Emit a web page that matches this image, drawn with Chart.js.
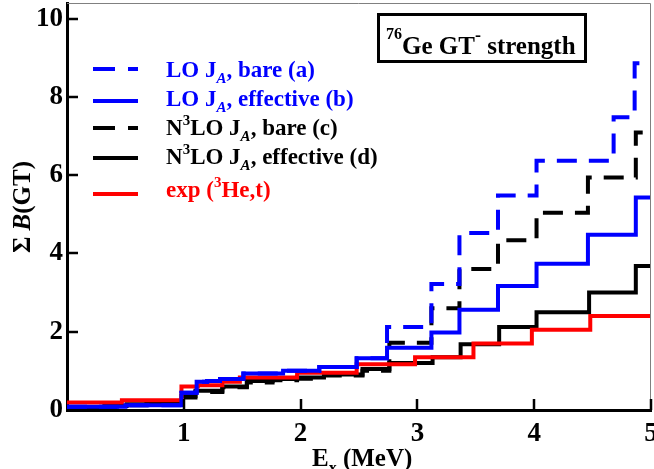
<!DOCTYPE html>
<html>
<head>
<meta charset="utf-8">
<script src="https://cdn.jsdelivr.net/npm/chart.js@4"></script>
<style>
  body { margin: 0; background: #fff; }
  #wrap { position: relative; width: 654px; height: 469px; overflow: hidden; }
  #chart { position: absolute; left: 0; top: 0; }
  #overlay { position: absolute; left: 0; top: 0; font-family: "Liberation Serif", "Times New Roman", serif; font-weight: bold; }
</style>
</head>
<body>
<div id="wrap">
  <canvas id="chart" width="654" height="469"></canvas>
  <svg id="overlay" width="654" height="469" xmlns="http://www.w3.org/2000/svg">
    <!-- annotation box -->
    <rect x="378.5" y="14.5" width="207" height="47" fill="#fff" stroke="#000" stroke-width="3"/>
    <text x="386" y="54" font-size="25"><tspan font-size="16" dy="-15">76</tspan><tspan dy="15">Ge GT</tspan><tspan font-size="18" dy="-13">-</tspan><tspan dy="13"> strength</tspan></text>

    <!-- legend -->
    <line x1="93" y1="69" x2="138" y2="69" stroke="#0000ff" stroke-width="4" stroke-dasharray="22 13"/>
    <line x1="93" y1="101" x2="138" y2="101" stroke="#0000ff" stroke-width="4"/>
    <line x1="93" y1="128" x2="138" y2="128" stroke="#000" stroke-width="4" stroke-dasharray="22 13"/>
    <line x1="93" y1="158" x2="138" y2="158" stroke="#000" stroke-width="4"/>
    <line x1="93" y1="194" x2="138" y2="194" stroke="#ff0000" stroke-width="4"/>

    <text x="166" y="77" font-size="23" fill="#0000ff">LO J<tspan font-size="15" font-style="italic" dy="6">A</tspan><tspan dy="-6">, bare (a)</tspan></text>
    <text x="166" y="106" font-size="23" fill="#0000ff">LO J<tspan font-size="15" font-style="italic" dy="6">A</tspan><tspan dy="-6">, effective (b)</tspan></text>
    <text x="166" y="135" font-size="23" fill="#000">N<tspan font-size="15" dy="-10">3</tspan><tspan dy="10">LO J</tspan><tspan font-size="15" font-style="italic" dy="6">A</tspan><tspan dy="-6">, bare (c)</tspan></text>
    <text x="166" y="164" font-size="23" fill="#000">N<tspan font-size="15" dy="-10">3</tspan><tspan dy="10">LO J</tspan><tspan font-size="15" font-style="italic" dy="6">A</tspan><tspan dy="-6">, effective (d)</tspan></text>
    <text x="166" y="197" font-size="23" fill="#ff0000">exp (<tspan font-size="15" dy="-10">3</tspan><tspan dy="10">He,t)</tspan></text>

    <!-- axis titles -->
    <text x="312" y="466" font-size="25">E<tspan font-size="16" dy="7">x</tspan><tspan dy="-7"> (MeV)</tspan></text>
    <text transform="translate(30,207) rotate(-90)" text-anchor="middle" font-size="25">Σ <tspan font-style="italic">B</tspan>(GT)</text>
  </svg>
</div>
<script>
// excitation energies (MeV) where each cumulative step starts, and summed B(GT)
const eBareLO = [0, 0.5, 0.98, 1.11, 1.2, 1.31, 1.51, 1.85, 2.16, 2.48, 2.74, 3.12, 3.36, 3.69, 4.02, 4.68, 4.86];
const sBareLO = [0.08, 0.12, 0.44, 0.72, 0.74, 0.79, 0.93, 1.0, 1.1, 1.32, 2.12, 3.22, 4.52, 5.48, 6.37, 7.48, 8.86];

const eEffLO = [0, 0.5, 0.98, 1.11, 1.2, 1.31, 1.51, 1.85, 2.16, 2.48, 2.74, 3.12, 3.36, 3.69, 4.02, 4.46, 4.87];
const sEffLO = [0.08, 0.12, 0.44, 0.72, 0.74, 0.79, 0.93, 1.0, 1.1, 1.32, 1.59, 1.98, 2.56, 3.17, 3.74, 4.48, 5.43];

const eBareN3LO = [0, 0.32, 0.51, 0.68, 0.98, 1.1, 1.33, 1.54, 1.76, 1.97, 2.2, 2.53, 2.76, 3.12, 3.36, 3.69, 4.02, 4.46, 4.87];
const sBareN3LO = [0.03, 0.07, 0.12, 0.16, 0.32, 0.46, 0.58, 0.7, 0.76, 0.8, 0.88, 1.0, 1.72, 2.6, 3.6, 4.34, 5.04, 5.94, 7.09];

const eEffN3LO = [0, 0.32, 0.51, 0.68, 0.98, 1.1, 1.33, 1.54, 1.76, 1.97, 2.2, 2.53, 2.76, 3.13, 3.37, 3.7, 4.02, 4.47, 4.87];
const sEffN3LO = [0.05, 0.1, 0.15, 0.19, 0.36, 0.49, 0.6, 0.74, 0.79, 0.83, 0.91, 1.05, 1.2, 1.35, 1.68, 2.12, 2.5, 3.0, 3.68];

const eExp = [0, 0.47, 0.98, 1.12, 1.33, 1.48, 1.97, 2.48, 2.98, 3.48, 3.98, 4.48];
const sExp = [0.19, 0.25, 0.6, 0.63, 0.72, 0.83, 0.95, 1.17, 1.35, 1.7, 2.05, 2.4];

const xTicks = [0, 1, 2, 3, 4, 5];
const yTicks = [0, 2, 4, 6, 8, 10];
const xMax = 5;

function steps(es, ss) {
    const pts = es.map((e, i) => ({ x: e, y: ss[i] }));
    pts.push({ x: xMax, y: ss[ss.length - 1] }); // hold last level to the edge
    return pts;
}

function series(es, ss, color, dashed) {
    return {
        data: steps(es, ss),
        borderColor: color,
        borderWidth: 4,
        borderDash: dashed ? [20, 12] : [],
        stepped: 'before',
        pointRadius: 0,
        fill: false
    };
}

// first dataset is drawn on top
const datasets = [
    series(eBareLO, sBareLO, '#0000ff', true),
    series(eEffLO, sEffLO, '#0000ff', false),
    series(eExp, sExp, '#ff0000', false),
    series(eBareN3LO, sBareN3LO, '#000000', true),
    series(eEffN3LO, sEffN3LO, '#000000', false)
];

// inward tick marks + thin top/right frame
const frame = {
    id: 'frame',
    afterDraw(chart) {
        const { ctx, chartArea: a, scales } = chart;
        ctx.save();
        ctx.strokeStyle = '#808080';
        ctx.lineWidth = 1;
        ctx.beginPath();
        ctx.moveTo(a.left, a.top + 0.5);
        ctx.lineTo(a.right - 0.5, a.top + 0.5);
        ctx.lineTo(a.right - 0.5, a.bottom);
        ctx.stroke();

        ctx.strokeStyle = '#000';
        ctx.lineWidth = 2.5;
        ctx.beginPath();
        xTicks.slice(1).forEach(v => {
            const px = Math.round(scales.x.getPixelForValue(v));
            ctx.moveTo(px, a.bottom);
            ctx.lineTo(px, a.bottom - 11);
        });
        yTicks.slice(1).forEach(v => {
            const py = Math.round(scales.y.getPixelForValue(v));
            ctx.moveTo(a.left, py);
            ctx.lineTo(a.left + 11, py);
        });
        ctx.stroke();
        ctx.restore();
    }
};

const tickFont = { family: '"Liberation Serif", serif', size: 27, weight: 'bold' };

new Chart(document.getElementById('chart').getContext('2d'), {
    type: 'line',
    data: { datasets },
    options: {
        responsive: false,
        animation: false,
        events: [],
        layout: { padding: { top: 3, right: 3, left: 0, bottom: 0 } },
        plugins: { legend: { display: false }, tooltip: { enabled: false } },
        scales: {
            x: {
                type: 'linear',
                min: 0,
                max: xMax,
                afterFit(s) { s.height = 59; s.paddingLeft = 0; s.paddingRight = 0; },
                grid: { display: false, drawTicks: false },
                border: { color: '#000', width: 3 },
                afterBuildTicks(s) { s.ticks = xTicks.map(v => ({ value: v })); },
                ticks: {
                    color: '#000',
                    font: tickFont,
                    padding: 8,
                    maxRotation: 0,
                    callback: v => (v === 0 ? '' : String(v))
                }
            },
            y: {
                min: 0,
                max: 10.4,
                afterFit(s) { s.width = 67; s.paddingTop = 0; s.paddingBottom = 0; },
                grid: { display: false, drawTicks: false },
                border: { color: '#000', width: 3 },
                afterBuildTicks(s) { s.ticks = yTicks.map(v => ({ value: v })); },
                ticks: {
                    color: '#000',
                    font: tickFont,
                    padding: 4
                }
            }
        }
    },
    plugins: [frame]
});
</script>
</body>
</html>
